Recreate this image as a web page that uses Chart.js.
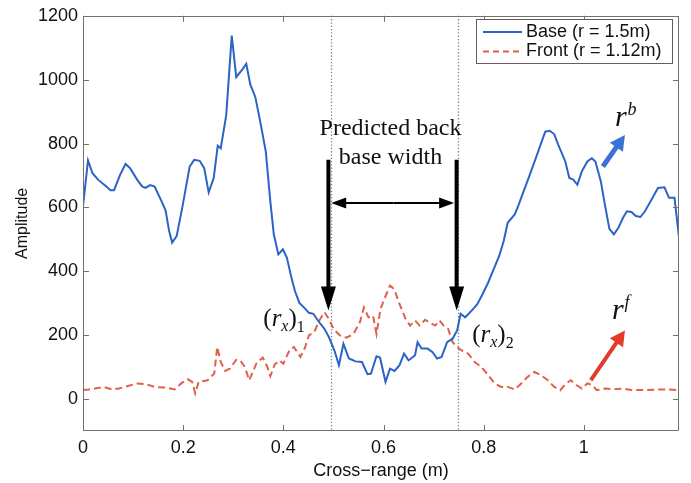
<!DOCTYPE html>
<html>
<head>
<meta charset="utf-8">
<script src="https://cdn.jsdelivr.net/npm/chart.js@4.4.1/dist/chart.umd.min.js"></script>
<style>
  html, body { margin: 0; padding: 0; background: #fff; }
  #wrap { width: 691px; height: 483px; }
</style>
</head>
<body>
<div id="wrap"><canvas id="chart"></canvas></div>
<script>
// data
const baseX = [0, 0.010, 0.019, 0.030, 0.046, 0.055, 0.062, 0.074, 0.085, 0.094, 0.108, 0.118, 0.125, 0.134, 0.143,
  0.157, 0.165, 0.172, 0.178, 0.187, 0.198, 0.213, 0.222, 0.233, 0.242, 0.251, 0.261, 0.269, 0.275, 0.286,
  0.297, 0.306, 0.319, 0.326, 0.334, 0.344, 0.354, 0.365, 0.374, 0.381, 0.390, 0.399, 0.407, 0.416, 0.423,
  0.432, 0.443, 0.451, 0.460, 0.469, 0.482, 0.491, 0.502, 0.511, 0.520, 0.531, 0.544, 0.557, 0.568, 0.575,
  0.586, 0.593, 0.604, 0.613, 0.622, 0.632, 0.641, 0.650, 0.663, 0.668, 0.676, 0.688, 0.698, 0.707, 0.716,
  0.727, 0.738, 0.747, 0.754, 0.763, 0.776, 0.787, 0.798, 0.809, 0.820, 0.831, 0.840, 0.848, 0.862, 0.870,
  0.881, 0.892, 0.904, 0.914, 0.923, 0.932, 0.941, 0.949, 0.963, 0.971, 0.979, 0.987, 0.996, 1.007, 1.016,
  1.023, 1.034, 1.042, 1.051, 1.060, 1.069, 1.078, 1.086, 1.095, 1.104, 1.113, 1.122, 1.135, 1.148, 1.161,
  1.170, 1.181, 1.190];
const baseY = [604, 747, 707, 687, 666, 654, 654, 702, 736, 723, 687, 666, 661, 670, 665,
  619, 590, 526, 490, 510, 598, 728, 749, 746, 723, 647, 692, 793, 785, 889,
  1138, 1008, 1034, 1050, 985, 946, 868, 775, 619, 516, 453, 469, 443, 381, 339,
  301, 284, 270, 267, 246, 220, 194, 152, 106, 173, 127, 118, 116, 78, 80,
  134, 130, 54, 95, 88, 106, 142, 121, 137, 178, 158, 158, 147, 127, 132,
  178, 189, 215, 267, 256, 277, 296, 329, 365, 407, 448, 495, 552, 578, 609,
  656, 702, 754, 798, 837, 840, 829, 796, 744, 692, 687, 671, 713, 744, 754,
  744, 681, 609, 533, 516, 536, 567, 588, 586, 573, 570, 588, 624, 661, 663,
  630, 630, 507];

const frontX = [0, 0.011, 0.024, 0.041, 0.059, 0.072, 0.090, 0.108, 0.125, 0.143, 0.165, 0.183, 0.196, 0.209,
  0.218, 0.224, 0.231, 0.249, 0.262, 0.268, 0.275, 0.284, 0.293, 0.306, 0.314, 0.323, 0.332, 0.346, 0.359,
  0.368, 0.374, 0.383, 0.392, 0.400, 0.412, 0.421, 0.434, 0.443, 0.451, 0.462, 0.471, 0.482, 0.491, 0.500,
  0.513, 0.526, 0.540, 0.553, 0.561, 0.570, 0.579, 0.586, 0.594, 0.603, 0.613, 0.621, 0.632, 0.644, 0.653,
  0.663, 0.672, 0.683, 0.694, 0.703, 0.712, 0.720, 0.729, 0.738, 0.747, 0.756, 0.769, 0.782, 0.795, 0.809,
  0.822, 0.835, 0.848, 0.862, 0.875, 0.888, 0.901, 0.914, 0.928, 0.941, 0.953, 0.963, 0.974, 0.985, 0.996,
  1.007, 1.016, 1.026, 1.042, 1.060, 1.078, 1.095, 1.122, 1.148, 1.170, 1.190];
const frontY = [28, 30, 33, 38, 30, 33, 41, 49, 47, 38, 36, 30, 49, 62,
  54, 18, 54, 59, 80, 163, 116, 88, 95, 123, 121, 101, 59, 111, 130,
  101, 72, 109, 121, 111, 152, 163, 132, 160, 199, 210, 244, 272, 251, 220,
  199, 192, 204, 241, 287, 256, 261, 204, 282, 318, 355, 345, 298, 251, 230,
  246, 230, 248, 238, 230, 246, 230, 220, 178, 163, 152, 142, 116, 101, 75,
  49, 38, 38, 30, 49, 70, 85, 75, 59, 38, 28, 47, 59, 44, 33,
  49, 44, 28, 33, 31, 33, 28, 28, 30, 30, 28];

const xTicks = [0, 0.2, 0.4, 0.6, 0.8, 1];
const yTicks = [0, 200, 400, 600, 800, 1000, 1200];
const seriesNames = ['Base (r = 1.5m)', 'Front (r = 1.12m)'];

const blue = '#2c63c6';
const red = '#e0604a';
const sans = '"Liberation Sans", Arial, sans-serif';
const serif = '"Liberation Serif", "Times New Roman", serif';

const toPts = (xs, ys) => xs.map((x, i) => ({ x: x, y: ys[i] }));

function arrowHead(ctx, x1, y1, x2, y2, len, half) {
    const a = Math.atan2(y2 - y1, x2 - x1);
    ctx.beginPath();
    ctx.moveTo(x2, y2);
    ctx.lineTo(x2 - len * Math.cos(a) + half * Math.sin(a), y2 - len * Math.sin(a) - half * Math.cos(a));
    ctx.lineTo(x2 - len * Math.cos(a) - half * Math.sin(a), y2 - len * Math.sin(a) + half * Math.cos(a));
    ctx.closePath();
    ctx.fill();
}

function arrow(ctx, x1, y1, x2, y2, width, len, half, color) {
    const a = Math.atan2(y2 - y1, x2 - x1);
    ctx.save();
    ctx.setLineDash([]);
    ctx.strokeStyle = color;
    ctx.fillStyle = color;
    ctx.lineWidth = width;
    ctx.beginPath();
    ctx.moveTo(x1, y1);
    ctx.lineTo(x2 - (len - 1) * Math.cos(a), y2 - (len - 1) * Math.sin(a));
    ctx.stroke();
    arrowHead(ctx, x1, y1, x2, y2, len, half);
    ctx.restore();
}

// draw little math labels like (r_x)_1 piece by piece
function mathText(ctx, parts, x, y, big, small) {
    ctx.save();
    ctx.fillStyle = '#111';
    ctx.textBaseline = 'alphabetic';
    ctx.textAlign = 'left';
    let cx = x;
    parts.forEach(p => {
        const size = p.shift ? small : big;
        ctx.font = (p.it ? 'italic ' : '') + size + 'px ' + serif;
        ctx.fillText(p.t, cx, y + (p.shift || 0));
        cx += ctx.measureText(p.t).width + (p.gap || 0);
    });
    ctx.restore();
}

const frame = {
    id: 'frame',
    beforeDatasetsDraw(chart) {
        const { ctx, chartArea: a, scales: { x } } = chart;
        ctx.save();
        ctx.strokeStyle = '#5d8f93';
        ctx.lineWidth = 1.3;
        ctx.setLineDash([1.3, 2]);
        [0.495, 0.749].forEach(v => {
            const px = Math.round(x.getPixelForValue(v)) + 0.5;
            ctx.beginPath();
            ctx.moveTo(px, a.top);
            ctx.lineTo(px, a.bottom);
            ctx.stroke();
        });
        ctx.restore();
    },
    afterDraw(chart) {
        const { ctx, chartArea: a, scales: { x, y } } = chart;
        const X = v => x.getPixelForValue(v);
        const Y = v => y.getPixelForValue(v);

        // box and inward ticks
        ctx.save();
        ctx.setLineDash([]);
        ctx.globalAlpha = 1;
        ctx.strokeStyle = '#707070';
        ctx.lineWidth = 1;
        ctx.beginPath();
        ctx.rect(Math.round(a.left) + 0.5, Math.round(a.top) + 0.5,
            Math.round(a.right - a.left) - 1, Math.round(a.bottom - a.top) - 1);
        xTicks.forEach(v => {
            const px = Math.round(X(v)) + 0.5;
            ctx.moveTo(px, a.bottom); ctx.lineTo(px, a.bottom - 6);
            ctx.moveTo(px, a.top); ctx.lineTo(px, a.top + 6);
        });
        yTicks.forEach(v => {
            const py = Math.round(Y(v)) + 0.5;
            ctx.moveTo(a.left, py); ctx.lineTo(a.left + 6, py);
            ctx.moveTo(a.right, py); ctx.lineTo(a.right - 6, py);
        });
        ctx.stroke();
        ctx.restore();

        // black arrows showing the predicted width
        arrow(ctx, X(0.490), Y(749), X(0.490), Y(277), 4, 24, 7.5, '#000');
        arrow(ctx, X(0.746), Y(749), X(0.746), Y(277), 4, 24, 7.5, '#000');
        const hy = Y(614);
        arrow(ctx, X(0.62), hy, X(0.4955), hy, 2, 15, 5.5, '#000');
        arrow(ctx, X(0.62), hy, X(0.741), hy, 2, 15, 5.5, '#000');

        // blue and red pointers
        arrow(ctx, X(1.038), Y(728), X(1.082), Y(827), 5, 15, 8, '#3c72d4');
        arrow(ctx, X(1.014), Y(59), X(1.082), Y(215), 4, 15, 8, '#e23b2b');

        ctx.save();
        ctx.fillStyle = '#111';
        ctx.font = '24px ' + serif;
        ctx.textAlign = 'center';
        ctx.textBaseline = 'middle';
        ctx.fillText('Predicted back', X(0.614), Y(845));
        ctx.fillText('base width', X(0.614), Y(756));
        ctx.restore();

        mathText(ctx, [{ t: '(' }, { t: 'r', it: true }, { t: 'x', it: true, shift: 5 }, { t: ')' }, { t: '1', shift: 6 }],
            X(0.36), Y(228), 25, 16);
        mathText(ctx, [{ t: '(' }, { t: 'r', it: true }, { t: 'x', it: true, shift: 5 }, { t: ')' }, { t: '2', shift: 6 }],
            X(0.777), Y(178), 25, 16);
        mathText(ctx, [{ t: 'r', it: true, gap: 1 }, { t: 'b', it: true, shift: -11 }], X(1.062), Y(855), 30, 18);
        mathText(ctx, [{ t: 'r', it: true, gap: 1 }, { t: 'f', it: true, shift: -11 }], X(1.056), Y(250), 30, 18);

        // legend box
        const lx = 476, ly = 19, lw = 196, lh = 44;
        ctx.save();
        ctx.setLineDash([]);
        ctx.fillStyle = '#fff';
        ctx.fillRect(lx, ly, lw, lh);
        ctx.strokeStyle = '#6b5a55';
        ctx.lineWidth = 1;
        ctx.strokeRect(lx + 0.5, ly + 0.5, lw, lh);
        ctx.lineWidth = 2;
        ctx.strokeStyle = blue;
        ctx.beginPath(); ctx.moveTo(483, 32); ctx.lineTo(522, 32); ctx.stroke();
        ctx.strokeStyle = red;
        ctx.setLineDash([6, 4]);
        ctx.beginPath(); ctx.moveTo(483, 51.5); ctx.lineTo(522, 51.5); ctx.stroke();
        ctx.fillStyle = '#111';
        ctx.font = '18px ' + sans;
        ctx.textBaseline = 'middle';
        ctx.fillText(seriesNames[0], 526, 32);
        ctx.fillText(seriesNames[1], 526, 51.5);
        ctx.restore();
    }
};

new Chart(document.getElementById('chart'), {
    type: 'line',
    data: {
        datasets: [{
            label: seriesNames[0],
            data: toPts(baseX, baseY),
            borderColor: blue,
            borderWidth: 2,
            pointRadius: 0,
            tension: 0
        }, {
            label: seriesNames[1],
            data: toPts(frontX, frontY),
            borderColor: red,
            borderWidth: 2,
            borderDash: [7, 4],
            pointRadius: 0,
            tension: 0
        }]
    },
    options: {
        responsive: true,
        maintainAspectRatio: false,
        animation: false,
        layout: { padding: { top: 14, right: 12, left: 0, bottom: 0 } },
        plugins: {
            legend: { display: false },
            tooltip: { enabled: false }
        },
        scales: {
            x: {
                type: 'linear',
                min: 0,
                max: 1.19,
                afterBuildTicks: s => { s.ticks = xTicks.map(v => ({ value: v })); },
                afterFit: s => { s.height = 52; },
                grid: { display: false, drawTicks: false },
                border: { display: false },
                ticks: {
                    color: '#111',
                    font: { family: sans, size: 18 },
                    padding: 6,
                    maxRotation: 0,
                    callback: v => String(v)
                },
                title: {
                    display: true,
                    text: 'Cross\u2212range (m)',
                    color: '#111',
                    font: { family: sans, size: 18 },
                    padding: { top: 0, bottom: 1 }
                }
            },
            y: {
                min: -100,
                max: 1200,
                afterBuildTicks: s => { s.ticks = yTicks.map(v => ({ value: v })); },
                afterFit: s => { s.width = 83; },
                grid: { display: false, drawTicks: false },
                border: { display: false },
                ticks: {
                    color: '#111',
                    font: { family: sans, size: 18 },
                    padding: 5,
                    callback: v => String(v)
                },
                title: {
                    display: true,
                    text: 'Amplitude',
                    color: '#111',
                    font: { family: sans, size: 16 },
                    padding: { top: 13, bottom: 0 }
                }
            }
        }
    },
    plugins: [frame]
});
</script>
</body>
</html>
